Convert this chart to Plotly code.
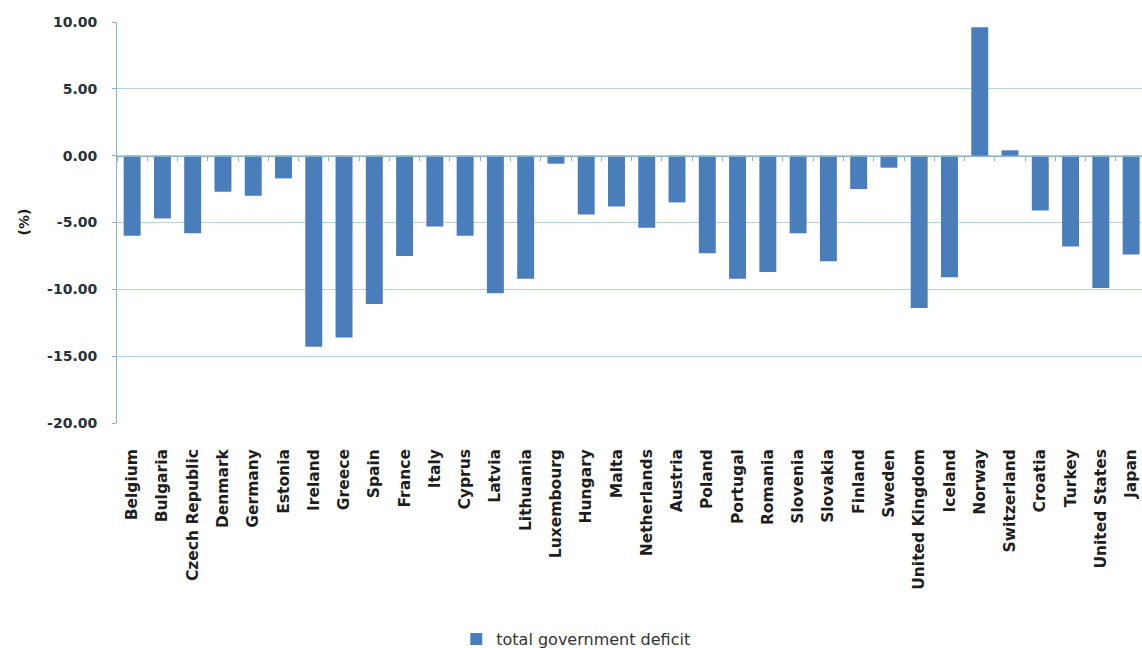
import plotly.graph_objects as go

countries = ["Belgium", "Bulgaria", "Czech Republic", "Denmark", "Germany", "Estonia",
             "Ireland", "Greece", "Spain", "France", "Italy", "Cyprus", "Latvia",
             "Lithuania", "Luxembourg", "Hungary", "Malta", "Netherlands", "Austria",
             "Poland", "Portugal", "Romania", "Slovenia", "Slovakia", "Finland",
             "Sweden", "United Kingdom", "Iceland", "Norway", "Switzerland",
             "Croatia", "Turkey", "United States", "Japan"]
deficit = [-6.0, -4.7, -5.8, -2.7, -3.0, -1.7,
           -14.3, -13.6, -11.1, -7.5, -5.3, -6.0, -10.3,
           -9.2, -0.6, -4.4, -3.8, -5.4, -3.5,
           -7.3, -9.2, -8.7, -5.8, -7.9, -2.5,
           -0.9, -11.4, -9.1, 9.6, 0.4,
           -4.1, -6.8, -9.9, -7.4]
series_name = "total government deficit"
y_tick_vals = [10, 5, 0, -5, -10, -15, -20]
y_tick_text = ["10.00", "5.00", "0.00", "-5.00", "-10.00", "-15.00", "-20.00"]
y_title = "(%)"

bar_color = "#4a7ebb"
grid_color = "#b4d4e6"
axis_color = "#8ab3cc"
label_font = dict(family="DejaVu Sans", size=15.5, color="#1e1e1e", weight="bold")

fig = go.Figure()
fig.add_trace(go.Bar(x=countries, y=deficit, name=series_name,
                     marker=dict(color=bar_color, line=dict(width=0)),
                     showlegend=True))
# invisible copy to carry the category tick marks on the zero line
fig.add_trace(go.Bar(x=countries, y=deficit, xaxis="x2", opacity=0,
                     showlegend=False, hoverinfo="skip"))

xrange = [-0.5, 33.36]
fig.update_layout(
    width=1142, height=648,
    margin=dict(l=117, r=0, t=22, b=225, autoexpand=False),
    plot_bgcolor="white", paper_bgcolor="white",
    bargap=0.44,
    xaxis=dict(type="category", categoryarray=countries, range=xrange,
               tickangle=-90, tickfont=label_font, showgrid=False,
               showline=False, ticks="", zeroline=False, ticklabelstandoff=22,
               automargin=False),
    xaxis2=dict(type="category", categoryarray=countries, range=xrange,
                overlaying="x", anchor="free", position=20 / 30, side="bottom",
                showticklabels=False, ticks="outside", ticklen=4, tickwidth=1,
                tickcolor=axis_color, tickson="boundaries", showline=True,
                linecolor=axis_color, linewidth=1, showgrid=False, zeroline=False),
    yaxis=dict(range=[-20, 10], tickvals=y_tick_vals, ticktext=y_tick_text,
               tickfont=dict(family="DejaVu Sans", size=14, color="#26313a", weight="bold"),
               showgrid=True, gridcolor=grid_color, gridwidth=1,
               showline=True, linecolor=axis_color, linewidth=1,
               ticks="outside", ticklen=4, tickcolor=axis_color,
               zeroline=False, ticklabelstandoff=12, automargin=False),
    legend=dict(orientation="h", x=0.331, y=-0.539, xanchor="left", yanchor="middle",
                font=dict(family="DejaVu Sans", size=16, color="#333333"),
                itemwidth=30),
    annotations=[dict(text=y_title, xref="paper", yref="paper", x=-0.0917, y=0.5,
                      xanchor="center", yanchor="middle",
                      textangle=-90, showarrow=False,
                      font=dict(family="DejaVu Sans", size=14, color="#1e1e1e", weight="bold"))],
)

fig.write_html("out.html")
